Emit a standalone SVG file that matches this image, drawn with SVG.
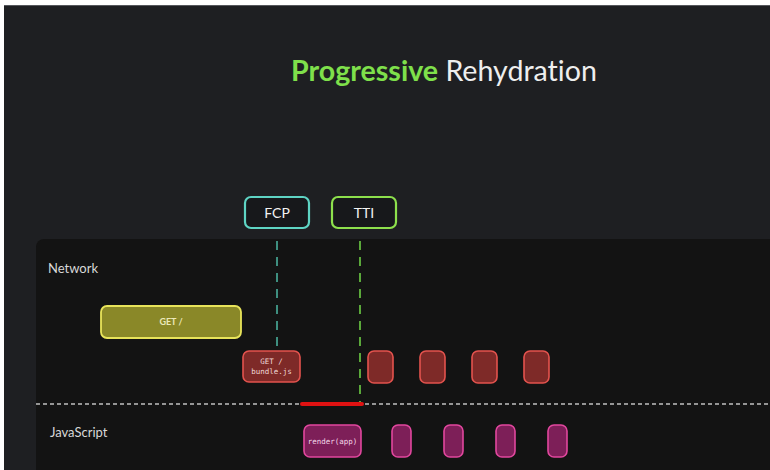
<svg xmlns="http://www.w3.org/2000/svg" width="770" height="470" viewBox="0 0 770 470">
<style>
.lbl{font-family:Lato,"Open Sans","Liberation Sans",sans-serif;fill:#d8d8d8;font-size:13px}
.mark{fill:#17181b;stroke-width:2.2}
.marktext{font-family:Lato,"Open Sans","Liberation Sans",sans-serif;fill:#f2f2f2;font-size:14px;text-anchor:middle}
.mono{font-family:"DejaVu Sans Mono","Liberation Mono",monospace;font-size:7.5px;text-anchor:middle}
.net{fill:#7e2a28;stroke:#e4534e;stroke-width:1.6}
.js{fill:#7d1f58;stroke:#e2479e;stroke-width:1.6}
</style>
<rect x="0" y="0" width="770" height="470" fill="#ffffff"/>
<rect x="4" y="5" width="766" height="465" fill="#1e1f22"/>
<rect x="4" y="5" width="766" height="1" fill="#55575c"/>
<text x="444" y="81" text-anchor="middle" font-family="Lato,'Open Sans','Liberation Sans',sans-serif" font-size="28.6" style="font-variant-ligatures:none"><tspan fill="#7fe04b" font-weight="bold">Progressive</tspan><tspan fill="#eeeeee"> Rehydration</tspan></text>
<path d="M36 247 a8 8 0 0 1 8 -8 H770 V470 H36 Z" fill="#131313"/>
<text class="lbl" x="48" y="273">Network</text>
<text class="lbl" x="50" y="437">JavaScript</text>
<g id="connectors">
<line x1="277" y1="241" x2="277" y2="350" stroke="#3e8f80" stroke-width="2" stroke-dasharray="9 7"/>
<line x1="360" y1="241" x2="360" y2="402" stroke="#5aa83a" stroke-width="2" stroke-dasharray="9 7"/>
<line x1="36" y1="404" x2="770" y2="404" stroke="#959595" stroke-width="2" stroke-dasharray="4 3"/>
<line x1="302" y1="404" x2="362" y2="404" stroke="#e01212" stroke-width="4" stroke-linecap="round"/>
</g>
<g id="fcp">
<rect class="mark" x="245" y="197" width="64" height="31" rx="6" stroke="#5ed4c4"/>
<text class="marktext" x="277" y="218">FCP</text>
</g>
<g id="tti">
<rect class="mark" x="332" y="197" width="64" height="31" rx="6" stroke="#8de04c"/>
<text class="marktext" x="364" y="218">TTI</text>
</g>
<g id="get-root">
<rect x="101" y="306" width="140" height="32" rx="6" fill="#8a8828" stroke="#e8e45a" stroke-width="1.8"/>
<text x="171" y="325" text-anchor="middle" font-family="Lato,'Open Sans','Liberation Sans',sans-serif" font-size="9" font-weight="bold" fill="#ece9b8">GET /</text>
</g>
<g id="get-bundle">
<rect class="net" x="243" y="351" width="57" height="31" rx="6"/>
<text class="mono" x="271.5" y="364" fill="#f0d8d6">GET /</text>
<text class="mono" x="271.5" y="374" fill="#f0d8d6">bundle.js</text>
</g>
<g id="net-1"><rect class="net" x="368" y="351" width="25" height="32" rx="6"/></g>
<g id="net-2"><rect class="net" x="420" y="351" width="25" height="32" rx="6"/></g>
<g id="net-3"><rect class="net" x="472" y="351" width="25" height="32" rx="6"/></g>
<g id="net-4"><rect class="net" x="524" y="351" width="25" height="32" rx="6"/></g>
<g id="render-app">
<rect class="js" x="304" y="425" width="57" height="32" rx="6"/>
<text class="mono" x="332.5" y="444" fill="#f4d8e8">render(app)</text>
</g>
<g id="js-1"><rect class="js" x="392" y="425" width="19" height="32" rx="6"/></g>
<g id="js-2"><rect class="js" x="444" y="425" width="19" height="32" rx="6"/></g>
<g id="js-3"><rect class="js" x="496" y="425" width="19" height="32" rx="6"/></g>
<g id="js-4"><rect class="js" x="548" y="425" width="19" height="32" rx="6"/></g>
</svg>
